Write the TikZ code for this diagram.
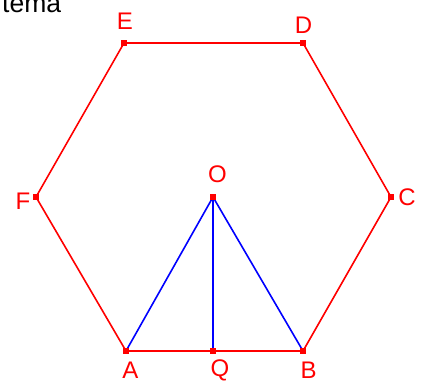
\documentclass[tikz,border=0pt]{standalone}
\usepackage{fontspec}
\setmainfont{Liberation Sans}
\usepackage{tikz}
\usetikzlibrary{positioning}

\tikzset{
  pt/.style={fill=red, inner sep=0pt, minimum size=6pt},
  lbl/.style={text=red, inner sep=0pt, font=\fontsize{24}{28}\selectfont},
  side/.style={red, line width=1.6pt},
  seg/.style={blue, line width=1.6pt}
}

\begin{document}
\begin{tikzpicture}[x=1pt,y=-1pt]
\useasboundingbox (0,0) rectangle (425,382);
\node[anchor=base west, inner sep=0pt, font=\fontsize{26.5}{30}\selectfont] (title) at (2,12.7) {tema};

% vertices
\coordinate (A) at (126,351);
\coordinate (B) at (303,351);
\coordinate (C) at (391,197);
\coordinate (D) at (303,43);
\coordinate (E) at (124,43);
\coordinate (F) at (36,197);
\coordinate (O) at (213,197);
\coordinate (Q) at (213,351);

\draw[side] (A) -- (B) -- (C) -- (D) -- (E) -- (F) -- cycle;
\draw[seg] (A) -- (O) -- (B);
\draw[seg] (O) -- (Q);

\foreach \p in {A,B,C,D,E,F,O,Q}
  \node[pt] (m\p) at (\p) {};

% labels
\node[lbl] (lA) at (130.5,370) {A};
\node[lbl] (lB) at (308.5,370.5) {B};
\node[lbl] (lC) at (407,197) {C};
\node[lbl] (lD) at (303.5,25) {D};
\node[lbl] (lE) at (125,21.5) {E};
\node[lbl] (lF) at (23,201) {F};
\node[lbl] (lO) at (217.5,174) {O};
\node[lbl] (lQ) at (220,370) {Q};
\end{tikzpicture}
\end{document}
